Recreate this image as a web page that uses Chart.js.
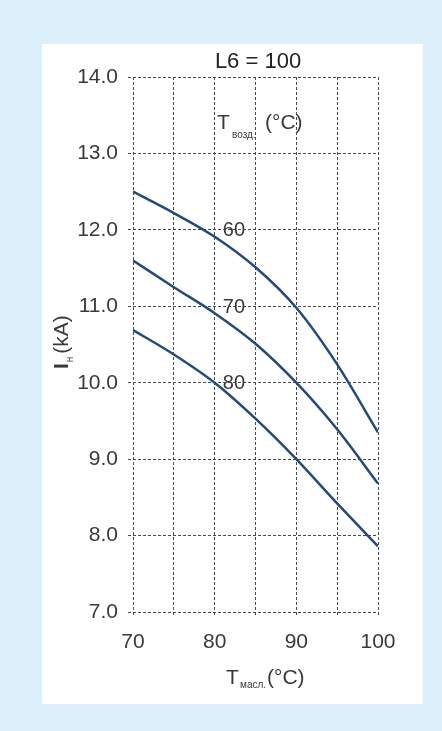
<!DOCTYPE html>
<html>
<head>
<meta charset="utf-8">
<script src="https://cdn.jsdelivr.net/npm/chart.js@4"></script>
<style>
  html, body { margin: 0; padding: 0; background: #dcf0fc; }
  canvas { display: block; }
</style>
</head>
<body>
<canvas id="chart" width="442" height="731"></canvas>
<script>
const oilTemp = [70, 75, 80, 85, 90, 95, 100];
const current60 = [12.50, 12.22, 11.91, 11.51, 10.98, 10.24, 9.35];
const current70 = [11.60, 11.25, 10.91, 10.51, 10.00, 9.39, 8.68];
const current80 = [10.69, 10.37, 10.00, 9.53, 9.00, 8.42, 7.86];
const airTemps = ['60', '70', '80'];
const titleText = 'L6 = 100';

const LINE_COLOR = '#1f4a86';
const GRID_COLOR = '#4a4a4a';
const TEXT_COLOR = '#3a3a3a';
const FONT = '"Liberation Sans", Arial, sans-serif';

function toPoints(values) {
	return oilTemp.map((t, i) => ({ x: t, y: values[i] }));
}

function curve(values) {
	return {
		data: toPoints(values),
		borderColor: LINE_COLOR,
		borderWidth: 2.5,
		pointRadius: 0,
		fill: false,
		cubicInterpolationMode: 'monotone'
	};
}

const decor = {
	id: 'decor',
	beforeDraw(chart) {
		const { ctx } = chart;
		ctx.save();
		ctx.fillStyle = '#dcf0fc';
		ctx.fillRect(0, 0, chart.width, chart.height);
		ctx.fillStyle = '#ffffff';
		ctx.fillRect(42, 44, 381, 660);
		ctx.restore();
	},
	afterDraw(chart) {
		const { ctx, scales: { x, y } } = chart;
		ctx.save();
		ctx.fillStyle = '#222';
		ctx.textAlign = 'center';
		ctx.textBaseline = 'alphabetic';
		ctx.font = '22px ' + FONT;
		ctx.fillText(titleText, 258, 68);

		// T возд. (°C)
		ctx.textAlign = 'left';
		ctx.fillStyle = TEXT_COLOR;
		ctx.font = '21px ' + FONT;
		ctx.fillText('T', 217, 129);
		ctx.font = '10px ' + FONT;
		ctx.fillText('возд.', 232, 138);
		ctx.font = '21px ' + FONT;
		ctx.fillText('(°C)', 265, 129);

		// curve labels
		ctx.font = '20px ' + FONT;
		ctx.textBaseline = 'middle';
		const labelY = [12, 11, 10];
		airTemps.forEach((t, i) => {
			ctx.fillText(t, x.getPixelForValue(81), y.getPixelForValue(labelY[i]) + 1);
		});

		// x title
		ctx.textBaseline = 'alphabetic';
		ctx.font = '21px ' + FONT;
		ctx.fillText('T', 226, 684);
		ctx.font = '10px ' + FONT;
		ctx.fillText('масл.', 240, 688);
		ctx.font = '21px ' + FONT;
		ctx.fillText('(°C)', 267, 684);

		// y title
		ctx.translate(68, 369);
		ctx.rotate(-Math.PI / 2);
		ctx.font = 'bold 21px ' + FONT;
		ctx.fillText('I', 0, 0);
		let w = ctx.measureText('I').width;
		ctx.font = '10px ' + FONT;
		ctx.fillText('н', w + 1, 5);
		w += ctx.measureText('н').width + 4;
		ctx.font = '21px ' + FONT;
		ctx.fillText('(kA)', w, 0);
		ctx.restore();
	}
};

const gridOpts = {
	color: GRID_COLOR,
	lineWidth: 1,
	tickLength: 5,
	tickColor: GRID_COLOR,
	tickBorderDash: [3, 2]
};

new Chart(document.getElementById('chart'), {
	type: 'line',
	data: {
		datasets: [curve(current60), curve(current70), curve(current80)]
	},
	options: {
		responsive: false,
		animation: false,
		layout: {
			padding: { left: 0, right: 64, top: 77, bottom: 0 }
		},
		plugins: {
			legend: { display: false },
			tooltip: { enabled: false }
		},
		scales: {
			x: {
				type: 'linear',
				min: 70,
				max: 100,
				grid: gridOpts,
				border: { display: false, dash: [3, 2] },
				ticks: {
					stepSize: 5,
					autoSkip: false,
					maxRotation: 0,
					padding: 13,
					color: TEXT_COLOR,
					font: { family: FONT, size: 21 },
					callback: v => (v % 10 === 0 ? v : '')
				},
				afterFit(scale) { scale.height = 119; }
			},
			y: {
				min: 7,
				max: 14,
				grid: gridOpts,
				border: { display: false, dash: [3, 2] },
				ticks: {
					stepSize: 1,
					padding: 10,
					color: TEXT_COLOR,
					font: { family: FONT, size: 21 },
					callback: v => v.toFixed(1)
				},
				afterFit(scale) { scale.width = 133; }
			}
		}
	},
	plugins: [decor]
});
</script>
</body>
</html>
